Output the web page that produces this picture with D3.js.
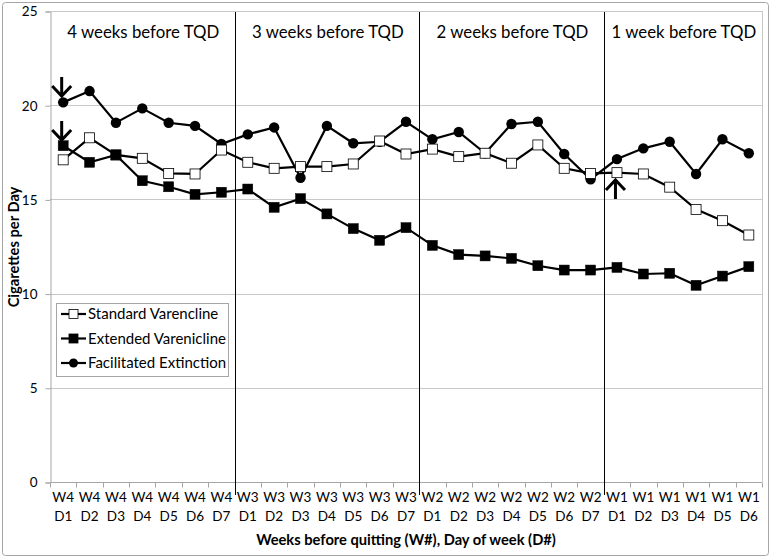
<!DOCTYPE html>
<html><head><meta charset="utf-8">
<script src="https://cdn.jsdelivr.net/npm/d3@7"></script>
<style>
html,body{margin:0;padding:0;background:#fff;}
svg{display:block;font-family:Lato,"Open Sans",sans-serif;}
</style></head>
<body>
<svg id="c" width="772" height="559"></svg>
<script>
const weeks = ["W4","W3","W2","W1"];
const weekTitles = ["4 weeks before TQD","3 weeks before TQD","2 weeks before TQD","1 week before TQD"];
const daysPerWeek = [7,7,7,6];
const categories = [];
weeks.forEach((w,i)=>{for(let d=1;d<=daysPerWeek[i];d++) categories.push(w+" D"+d);});

const standard = [17.1,18.27,17.36,17.18,16.38,16.35,17.62, 16.97,16.65,16.74,16.74,16.88,18.1,17.41, 17.67,17.27,17.45,16.92,17.89,16.65,16.38, 16.42,16.35,15.65,14.47,13.87,13.11];
const extended = [17.85,16.97,17.36,15.99,15.67,15.27,15.38, 15.55,14.58,15.04,14.23,13.45,12.83,13.5, 12.56,12.07,12.0,11.87,11.48,11.25,11.25, 11.39,11.04,11.08,10.44,10.93,11.43];
const facilitated = [20.15,20.75,19.07,19.83,19.07,18.9,17.94, 18.45,18.82,16.15,18.9,17.98,18.06,19.12, 18.19,18.58,17.45,19.0,19.12,17.41,16.07, 17.14,17.71,18.06,16.35,18.19,17.45];
const seriesNames = ["Standard Varencline","Extended Varenicline","Facilitated Extinction"];
const yTicks = [0,5,10,15,20,25];

const svg = d3.select("#c");
const L=50, R=762, T=11, B=482;
const x = d3.scaleBand().domain(categories).range([L,R]).paddingInner(0).paddingOuter(0);
const y = d3.scaleLinear().domain([0,25]).range([B,T]);
const cx = c => x(c)+x.bandwidth()/2;

// outer border
svg.append("rect").attr("x",2.5).attr("y",2.5).attr("width",766).attr("height",553)
  .attr("rx",3).attr("fill","#fff").attr("stroke","#a6a6a6").attr("stroke-width",1);

// gridlines
svg.append("g").selectAll("line").data(yTicks.filter(t=>t>0)).join("line")
  .attr("x1",L).attr("x2",R).attr("y1",d=>Math.round(y(d))+0.5).attr("y2",d=>Math.round(y(d))+0.5)
  .attr("stroke","#c8c8c8").attr("stroke-width",1);
// right border of plot
svg.append("line").attr("x1",R+0.5).attr("x2",R+0.5).attr("y1",T).attr("y2",B).attr("stroke","#c8c8c8");

// y axis
const yAxis = d3.axisLeft(y).tickValues(yTicks).tickSize(5).tickPadding(8);
const gy = svg.append("g").attr("transform",`translate(${L+0.5},0.5)`).call(yAxis);
gy.select(".domain").attr("stroke","#a6a6a6");
gy.selectAll(".tick line").attr("stroke","#a6a6a6");
gy.selectAll("text").attr("font-size",13.5).attr("fill","#000").attr("font-family","Lato,sans-serif");

// x axis
const gx = svg.append("g").attr("transform",`translate(0,${B+0.5})`);
gx.append("line").attr("x1",L).attr("x2",R).attr("stroke","#a6a6a6");
gx.selectAll("line.tk").data(d3.range(categories.length+1)).join("line").attr("class","tk")
  .attr("x1",i=>Math.round(L+i*x.bandwidth())+0.5).attr("x2",i=>Math.round(L+i*x.bandwidth())+0.5)
  .attr("y1",0).attr("y2",5).attr("stroke","#a6a6a6");
const lab = gx.selectAll("text.lb").data(categories).join("text").attr("class","lb")
  .attr("text-anchor","middle").attr("font-size",13.5).attr("fill","#000");
lab.append("tspan").attr("x",d=>cx(d)).attr("y",19).text(d=>d.split(" ")[0]);
lab.append("tspan").attr("x",d=>cx(d)).attr("y",38).text(d=>d.split(" ")[1]);

// week separators and titles
let start=0;
weeks.forEach((w,i)=>{
  const c0 = categories[start], c1 = categories[start+daysPerWeek[i]-1];
  const x0 = x(c0), x1 = x(c1)+x.bandwidth();
  if(i>0){
    svg.append("line").attr("x1",Math.round(x0)+0.5).attr("x2",Math.round(x0)+0.5)
      .attr("y1",T).attr("y2",B+13).attr("stroke","#000").attr("stroke-width",1);
  }
  svg.append("text").attr("x",(x0+x1)/2 + 1).attr("y",38).attr("text-anchor","middle")
    .attr("font-size",16.8).attr("fill","#000").text(weekTitles[i]);
  start += daysPerWeek[i];
});
// top border of plot
svg.append("line").attr("x1",L).attr("x2",R).attr("y1",T+0.5).attr("y2",T+0.5).attr("stroke","#c8c8c8");

// series
const line = d3.line().x((d,i)=>cx(categories[i])).y(d=>y(d));
function drawSeries(vals, type){
  const g = svg.append("g");
  g.append("path").attr("d",line(vals)).attr("fill","none").attr("stroke","#000").attr("stroke-width",2.2);
  if(type==="circle"){
    g.selectAll("circle").data(vals).join("circle").attr("cx",(d,i)=>cx(categories[i])).attr("cy",d=>y(d))
      .attr("r",5.2).attr("fill","#000");
  } else {
    const s=10;
    g.selectAll("rect").data(vals).join("rect").attr("x",(d,i)=>cx(categories[i])-s/2).attr("y",d=>y(d)-s/2)
      .attr("width",s).attr("height",s)
      .attr("fill",type==="open"?"#fff":"#000").attr("stroke","#000").attr("stroke-width",type==="open"?0.8:0.5);
  }
}
drawSeries(facilitated,"circle");
drawSeries(standard,"open");
drawSeries(extended,"filled");

// arrows
function arrow(xc, yTip, dir){ // dir: 1 down, -1 up
  const len=19, hw=9.5, hl=10;
  const g = svg.append("g").attr("stroke","#000").attr("stroke-width",3).attr("fill","none");
  g.append("line").attr("x1",xc).attr("x2",xc).attr("y1",yTip-dir*len).attr("y2",yTip);
  g.append("polyline").attr("points",`${xc-hw},${yTip-dir*hl} ${xc},${yTip} ${xc+hw},${yTip-dir*hl}`);
}
arrow(cx(categories[0])-1.5, 96, 1);
arrow(cx(categories[0])-1.5, 140, 1);
arrow(cx(categories[21])-1.5, 180, -1);

// legend
const lg = svg.append("g");
lg.append("rect").attr("x",56.5).attr("y",303.5).attr("width",172).attr("height",73)
  .attr("fill","#fff").attr("stroke","#a6a6a6");
const types=["open","filled","circle"];
seriesNames.forEach((n,i)=>{
  const yy = 314+i*24.5;
  lg.append("line").attr("x1",61).attr("x2",86).attr("y1",yy).attr("y2",yy).attr("stroke","#000").attr("stroke-width",2.2);
  if(types[i]==="circle") lg.append("circle").attr("cx",73.5).attr("cy",yy).attr("r",4.5).attr("fill","#000");
  else lg.append("rect").attr("x",69).attr("y",yy-4.5).attr("width",9).attr("height",9)
    .attr("fill",types[i]==="open"?"#fff":"#000").attr("stroke","#000").attr("stroke-width",0.8);
  lg.append("text").attr("x",88).attr("y",yy+5).attr("font-size",15).attr("fill","#000").text(n);
});

// axis titles
svg.append("text").attr("x",406).attr("y",545).attr("text-anchor","middle").attr("font-weight","bold")
  .attr("font-size",14.7).attr("fill","#000").text("Weeks before quitting (W#), Day of week (D#)");
svg.append("text").attr("transform","translate(19,247) rotate(-90)").attr("text-anchor","middle")
  .attr("font-weight","bold").attr("font-size",14.7).attr("fill","#000").text("Cigarettes per Day");
</script>
</body></html>
